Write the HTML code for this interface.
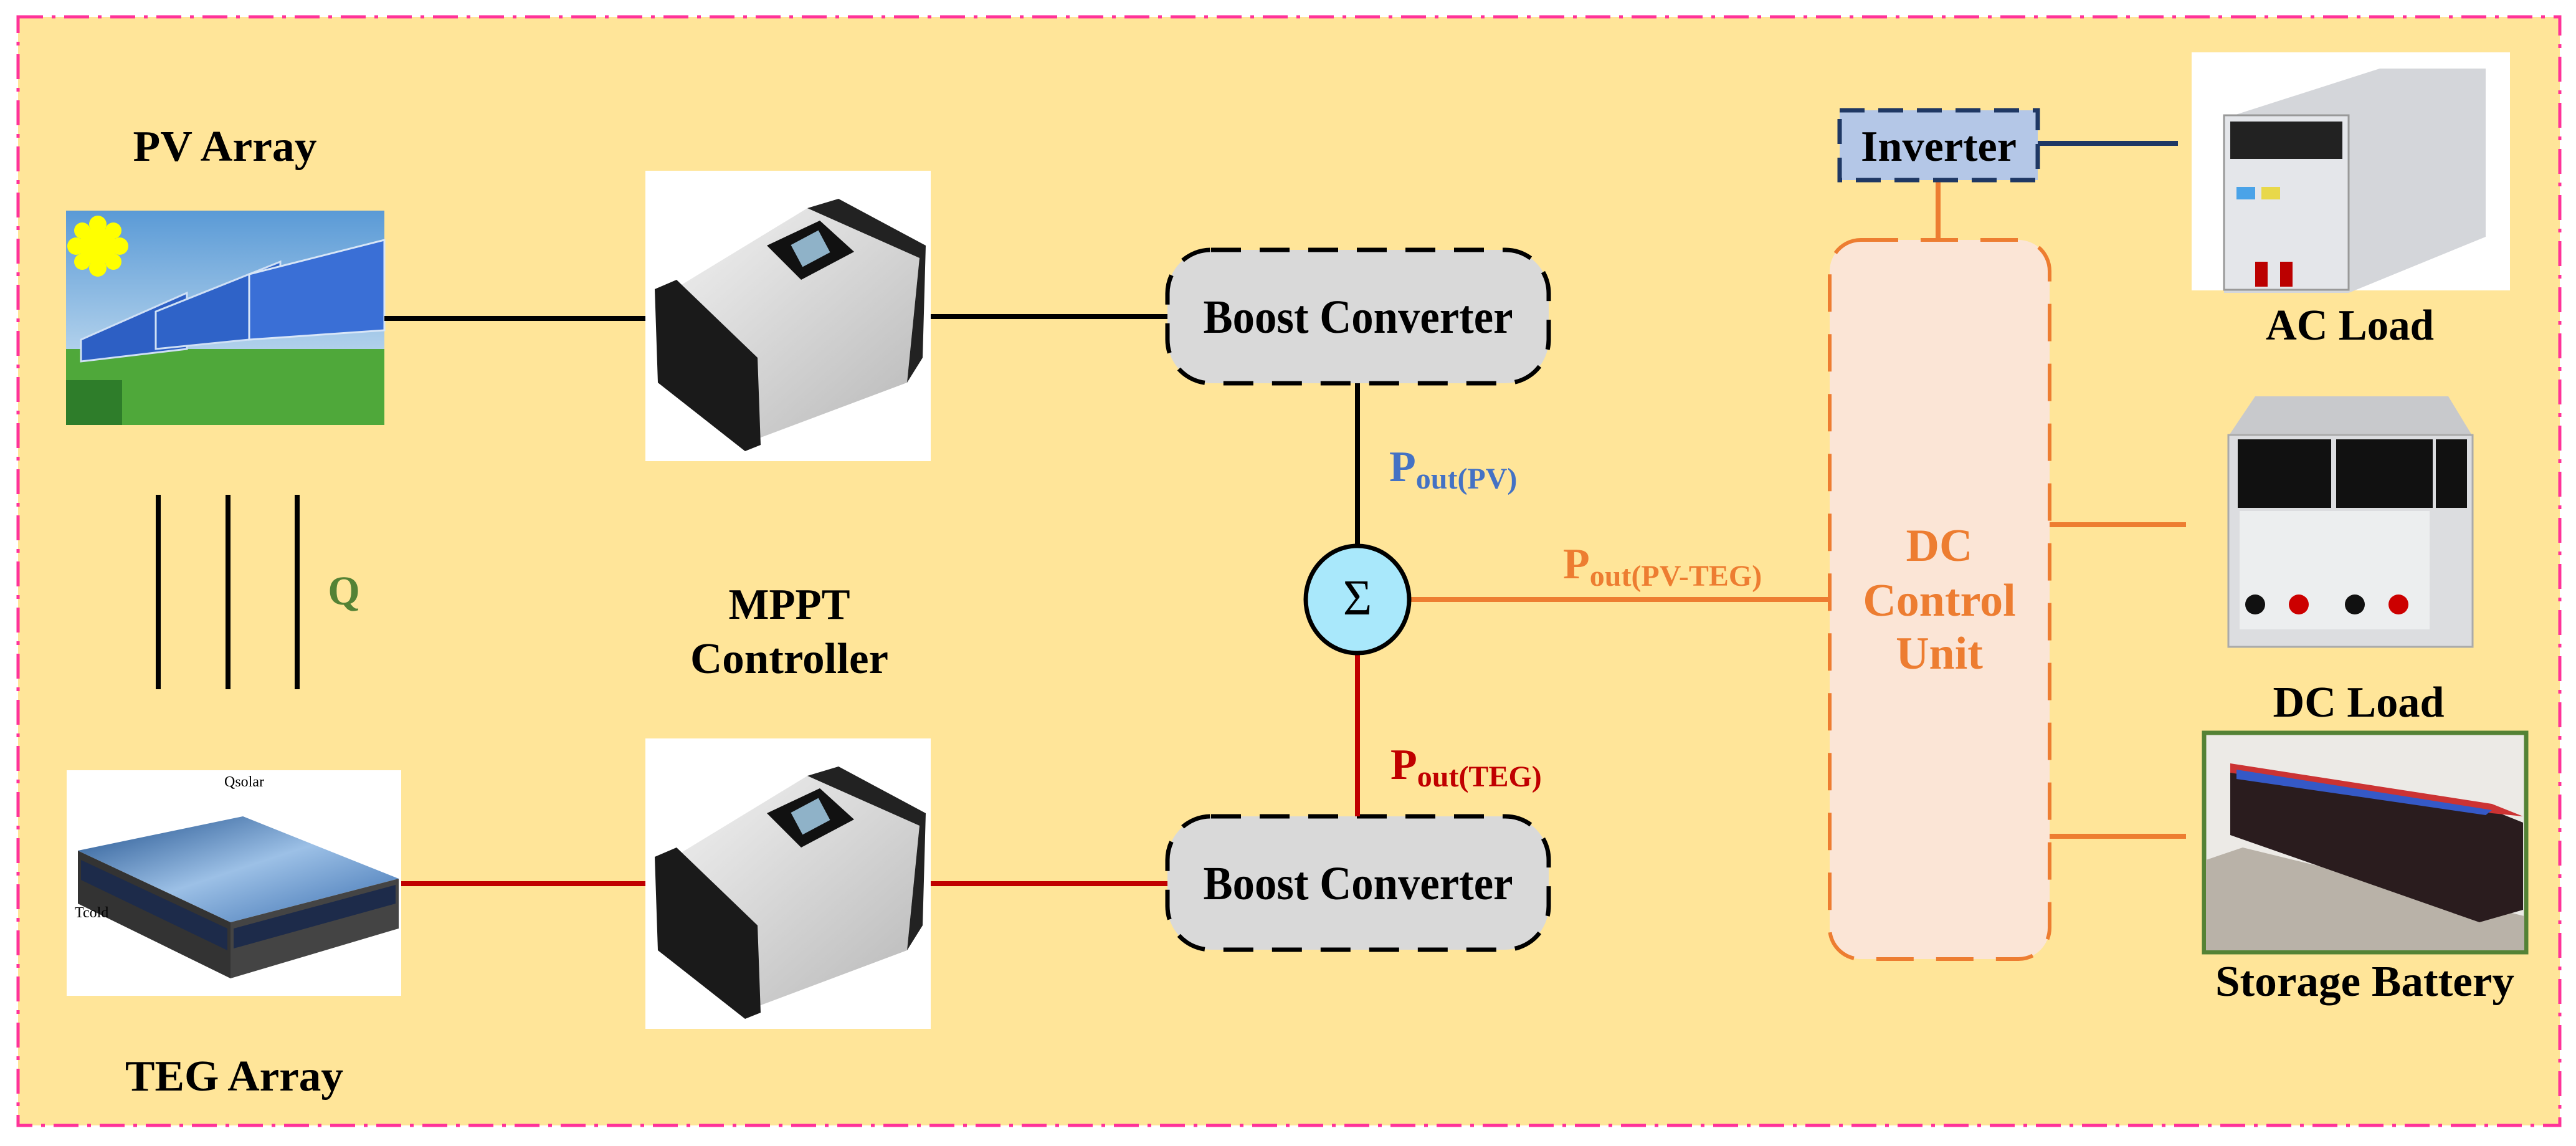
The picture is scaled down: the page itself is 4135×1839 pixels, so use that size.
<!DOCTYPE html>
<html><head><meta charset="utf-8"><style>
html,body{margin:0;padding:0;background:#fff;}
svg{display:block;}
text{font-family:"Liberation Serif",serif;font-weight:bold;}
</style></head><body>
<svg width="4135" height="1839" viewBox="0 0 4135 1839" xmlns="http://www.w3.org/2000/svg">
<defs>
<linearGradient id="sky" x1="0" y1="0" x2="0" y2="1"><stop offset="0" stop-color="#5a9ad6"/><stop offset="1" stop-color="#dfeef7"/></linearGradient>
<linearGradient id="silver" x1="0" y1="0" x2="1" y2="1"><stop offset="0" stop-color="#f4f4f4"/><stop offset="1" stop-color="#b8b8b8"/></linearGradient>
<linearGradient id="tegtop" x1="0" y1="0" x2="1" y2="1"><stop offset="0" stop-color="#1e4f8c"/><stop offset=".5" stop-color="#9cc0e6"/><stop offset="1" stop-color="#3b6fb0"/></linearGradient>
<g id="mppt">
<rect x="0" y="0" width="458" height="466" fill="#fff"/>
<polygon points="30,200 260,60 440,140 420,340 180,430 20,330" fill="url(#silver)"/>
<polygon points="260,60 310,45 450,120 445,300 420,340 440,140" fill="#222"/>
<polygon points="15,190 50,175 180,300 185,440 160,450 20,340" fill="#1a1a1a"/>
<polygon points="195,120 280,80 335,130 250,175" fill="#111"/>
<rect x="240" y="105" width="50" height="40" fill="#8fb2c8" transform="rotate(-28 265 125)"/>
</g>
</defs>
<rect x="29" y="27" width="4080" height="1779" fill="#ffe599" stroke="#ff3399" stroke-width="5" stroke-dasharray="40,14,6,14"/>

<!-- PV Array -->
<text x="361" y="258" font-size="70" text-anchor="middle" textLength="295" lengthAdjust="spacingAndGlyphs">PV Array</text>
<g>
<rect x="106" y="338" width="511" height="344" fill="url(#sky)"/>
<rect x="106" y="560" width="511" height="122" fill="#4fa83a"/>
<polygon points="130,545 300,470 300,560 130,580" fill="#2d5fc4" stroke="#cfe0f5" stroke-width="3"/>
<polygon points="250,500 450,420 450,540 250,560" fill="#2f63c8" stroke="#cfe0f5" stroke-width="3"/>
<polygon points="400,440 617,385 617,530 400,545" fill="#3a6fd6" stroke="#d8e6f7" stroke-width="3"/>
<rect x="106" y="610" width="90" height="72" fill="#2e7d2a"/>
<circle cx="157" cy="395" r="30" fill="#ffff00"/>
<g fill="#ffff00"><circle cx="157" cy="360" r="14"/><circle cx="157" cy="430" r="14"/><circle cx="122" cy="395" r="14"/><circle cx="192" cy="395" r="14"/><circle cx="132" cy="370" r="13"/><circle cx="182" cy="370" r="13"/><circle cx="132" cy="420" r="13"/><circle cx="182" cy="420" r="13"/></g>
</g>
<line x1="617" y1="511" x2="1040" y2="511" stroke="#000" stroke-width="8"/>
<use href="#mppt" x="1036" y="274"/>
<line x1="1494" y1="508" x2="1875" y2="508" stroke="#000" stroke-width="8"/>

<!-- Q lines -->
<g stroke="#000" stroke-width="8"><line x1="254" y1="794" x2="254" y2="1106"/><line x1="366" y1="794" x2="366" y2="1106"/><line x1="477" y1="794" x2="477" y2="1106"/></g>
<text x="552" y="970" font-size="66" fill="#548235" text-anchor="middle">Q</text>

<text x="1267" y="993" font-size="70" text-anchor="middle" textLength="195" lengthAdjust="spacingAndGlyphs">MPPT</text>
<text x="1267" y="1080" font-size="70" text-anchor="middle" textLength="318" lengthAdjust="spacingAndGlyphs">Controller</text>

<!-- TEG -->
<rect x="107" y="1236" width="537" height="362" fill="#fff"/>
<polygon points="125,1365 390,1310 640,1410 370,1480" fill="url(#tegtop)"/>
<polygon points="125,1365 370,1480 370,1570 125,1450" fill="#333"/>
<polygon points="370,1480 640,1410 640,1490 370,1570" fill="#444"/>
<polygon points="130,1380 365,1490 365,1525 130,1412" fill="#1d2b4a"/>
<polygon points="375,1490 635,1420 635,1450 375,1522" fill="#1d2b4a"/>
<text x="360" y="1262" font-size="24" style="font-weight:normal">Qsolar</text>
<text x="120" y="1472" font-size="24" style="font-weight:normal">Tcold</text>
<line x1="644" y1="1418" x2="1040" y2="1418" stroke="#c00000" stroke-width="8"/>
<use href="#mppt" x="1036" y="1185"/>
<line x1="1494" y1="1418" x2="1875" y2="1418" stroke="#c00000" stroke-width="8"/>
<text x="376" y="1750" font-size="70" text-anchor="middle" textLength="350" lengthAdjust="spacingAndGlyphs">TEG Array</text>

<!-- Boost converters -->
<rect x="1874" y="401" width="612" height="214" rx="70" fill="#d9d9d9" stroke="#000" stroke-width="7" stroke-dasharray="48,30"/>
<text x="2180" y="534" font-size="76" text-anchor="middle" textLength="497" lengthAdjust="spacingAndGlyphs">Boost Converter</text>
<rect x="1874" y="1310" width="612" height="214" rx="70" fill="#d9d9d9" stroke="#000" stroke-width="7" stroke-dasharray="48,30"/>
<text x="2180" y="1443" font-size="76" text-anchor="middle" textLength="497" lengthAdjust="spacingAndGlyphs">Boost Converter</text>

<line x1="2179" y1="615" x2="2179" y2="877" stroke="#000" stroke-width="8"/>
<line x1="2179" y1="1048" x2="2179" y2="1310" stroke="#c00000" stroke-width="8"/>
<line x1="2263" y1="962" x2="2937" y2="962" stroke="#ed7d31" stroke-width="8"/>
<ellipse cx="2179" cy="962" rx="83" ry="86" fill="#a9e8fb" stroke="#000" stroke-width="7"/>
<text x="2179" y="986" font-size="80" text-anchor="middle" style="font-weight:normal">Σ</text>

<text x="2230" y="772" font-size="70" fill="#4472c4">P<tspan font-size="48" dy="12">out(PV)</tspan></text>
<text x="2509" y="928" font-size="70" fill="#ed7d31">P<tspan font-size="48" dy="12">out(PV-TEG)</tspan></text>
<text x="2232" y="1250" font-size="70" fill="#c00000">P<tspan font-size="48" dy="12">out(TEG)</tspan></text>

<!-- DC control unit -->
<rect x="2937" y="385" width="353" height="1154" rx="50" fill="#fbe5d6" stroke="#ed7d31" stroke-width="6" stroke-dasharray="60,36"/>
<g fill="#ed7d31" font-size="74" text-anchor="middle">
<text x="3113" y="900">DC</text><text x="3113" y="988">Control</text><text x="3113" y="1073">Unit</text></g>

<line x1="3111" y1="289" x2="3111" y2="385" stroke="#ed7d31" stroke-width="8"/>
<rect x="2953" y="177" width="318" height="112" fill="#b4c7e7" stroke="#1f3864" stroke-width="7" stroke-dasharray="40,22"/>
<text x="3112" y="258" font-size="70" text-anchor="middle" textLength="250" lengthAdjust="spacingAndGlyphs">Inverter</text>
<line x1="3271" y1="230" x2="3496" y2="230" stroke="#1f3864" stroke-width="8"/>

<line x1="3290" y1="842" x2="3509" y2="842" stroke="#ed7d31" stroke-width="8"/>
<line x1="3290" y1="1342" x2="3509" y2="1342" stroke="#ed7d31" stroke-width="8"/>

<!-- AC load -->
<rect x="3518" y="84" width="511" height="382" fill="#fff"/>
<polygon points="3570,190 3820,110 3990,110 3990,380 3770,470 3570,470" fill="#d4d6da"/>
<rect x="3570" y="185" width="200" height="280" fill="#e4e6ea" stroke="#999" stroke-width="3"/>
<rect x="3580" y="195" width="180" height="60" fill="#222"/>
<rect x="3590" y="300" width="30" height="20" fill="#4aa3e8"/><rect x="3630" y="300" width="30" height="20" fill="#e8d84a"/>
<rect x="3620" y="420" width="20" height="40" fill="#b00"/><rect x="3660" y="420" width="20" height="40" fill="#b00"/>
<text x="3772" y="545" font-size="70" text-anchor="middle" textLength="270" lengthAdjust="spacingAndGlyphs">AC Load</text>

<!-- DC load -->
<polygon points="3620,636 3930,636 3969,700 3577,700" fill="#c8c9cc"/>
<rect x="3577" y="698" width="392" height="340" fill="#dcdde0" stroke="#aaa" stroke-width="3"/>
<rect x="3592" y="705" width="150" height="110" fill="#111"/><rect x="3750" y="705" width="155" height="110" fill="#111"/><rect x="3910" y="705" width="50" height="110" fill="#111"/>
<rect x="3595" y="820" width="305" height="190" fill="#eceeef"/>
<circle cx="3620" cy="970" r="16" fill="#111"/><circle cx="3690" cy="970" r="16" fill="#c00"/><circle cx="3780" cy="970" r="16" fill="#111"/><circle cx="3850" cy="970" r="16" fill="#c00"/>
<text x="3786" y="1150" font-size="70" text-anchor="middle" textLength="275" lengthAdjust="spacingAndGlyphs">DC Load</text>

<!-- Battery -->
<rect x="3538" y="1176" width="517" height="352" fill="#eceae6" stroke="#548235" stroke-width="7"/>
<polygon points="3541,1380 3600,1360 4052,1470 4052,1525 3541,1525" fill="#b9b2a8"/>
<polygon points="3580,1230 4000,1300 4050,1320 4050,1460 3980,1480 3580,1340" fill="#2a1c1e"/>
<polygon points="3580,1225 4000,1290 4050,1310 4000,1305 3580,1240" fill="#c33"/>
<polygon points="3590,1235 4000,1300 3990,1308 3590,1250" fill="#3559c7"/>
<text x="3796" y="1598" font-size="70" text-anchor="middle" textLength="480" lengthAdjust="spacingAndGlyphs">Storage Battery</text>
</svg>
</body></html>
